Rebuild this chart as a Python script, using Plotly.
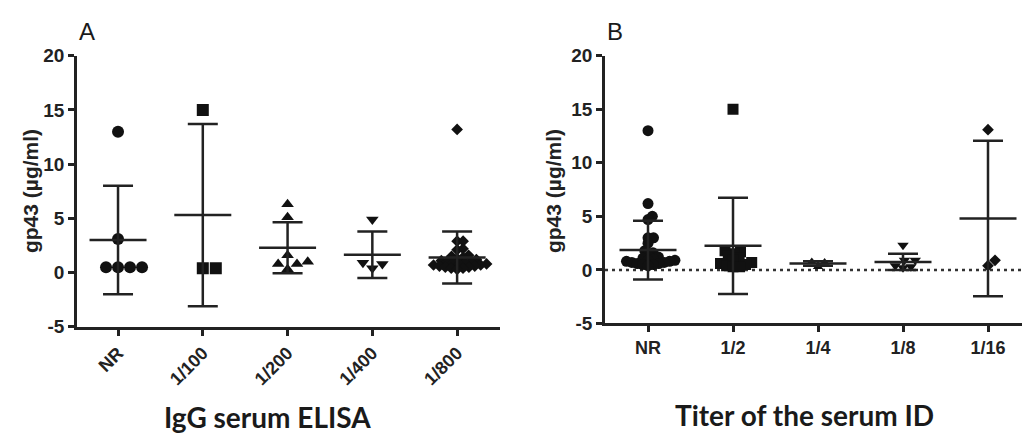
import math
import plotly.graph_objects as go

# ---------------- data ----------------
cats_a = ["NR", "1/100", "1/200", "1/400", "1/800"]
nr_a = [13.0, 3.1, 0.5, 0.5, 0.5, 0.5]
t100_a = [15.0, 0.4, 0.4]
t200_a = [6.3, 5.1, 1.6, 1.0, 0.8, 0.8, 0.3]
t400_a = [4.9, 0.9, 0.8, 0.4]
t800_a = [13.2, 2.9, 2.9, 2.2, 2.1, 1.6, 1.5, 1.4, 1.3, 1.2, 1.1, 1.0, 1.0,
          0.9, 0.9, 0.8, 0.8, 0.7, 0.7, 0.6, 0.6, 0.5, 0.5, 0.4, 0.4, 0.3]
mean_a = [3.0, 5.3, 2.3, 1.65, 1.4]
sd_a = [5.0, 8.4, 2.35, 2.15, 2.4]

cats_b = ["NR", "1/2", "1/4", "1/8", "1/16"]
nr_b = [13.0, 6.2, 5.0, 4.7, 3.0, 3.0, 2.5, 1.8, 1.6, 1.4, 1.2, 1.1, 1.0, 0.9,
        0.9, 0.8, 0.8, 0.7, 0.7, 0.6, 0.6, 0.5, 0.5, 0.4]
t2_b = [15.0, 1.8, 1.7, 1.5, 1.3, 1.1, 0.9, 0.7, 0.6, 0.5, 0.4, 0.3, 0.3]
t4_b = [0.75, 0.7, 0.3]
t8_b = [2.3, 0.9, 0.9, 0.4, 0.3, 0.2]
t16_b = [13.1, 0.9, 0.4]
mean_b = [1.85, 2.25, 0.6, 0.75, 4.8]
sd_b = [2.75, 4.5, 0.2, 0.75, 7.25]

y_ticks = [-5, 0, 5, 10, 15, 20]
y_ticktext = ["-5", "0", "5", "10", "15", "20"]

symbols = ["circle", "square", "triangle-up", "triangle-down", "diamond"]
sizes_a = [12, 12, 11, 11, 9]
sizes_b = [11, 11, 9, 10, 9]

W, H = 1022, 445
DARK = "#222222"
TICKFONT = dict(family="Liberation Sans, Arial", size=18, color=DARK, weight="bold")
YTICKFONT = dict(family="Liberation Sans, Arial", size=19, color=DARK, weight="bold")

# panel geometry (pixels)
ya_top, ya_bot = 48, 332.5
yb_top, yb_bot = 48, 329
xa_left, xa_right = 77, 499.5
xb_left, xb_right = 605, 1022
xa_range = [-0.484, 4.5]
xb_range = [-0.506, 4.4]
y_range = [-5, 20]


def swarm(values, d, ppu_x, ppu_y):
    n = len(values)
    order = sorted(range(n), key=lambda i: values[i])
    placed = []
    offs = [0.0] * n
    for i in order:
        y = values[i] * ppu_y
        cands = [0.0]
        for px, py in placed:
            dy = abs(py - y)
            if dy < d:
                dx = math.sqrt(d * d - dy * dy)
                cands += [px + dx, px - dx]
        cands.sort(key=lambda c: (round(abs(c), 3), -c))
        chosen = 0.0
        for c in cands:
            if all((c - px) ** 2 + (y - py) ** 2 >= d * d - 1e-6 for px, py in placed):
                chosen = c
                break
        placed.append((chosen, y))
        offs[i] = chosen / ppu_x
    return offs


fig = go.Figure()


def add_panel(groups, means, sds, sizes, xa, ya, ppu_x, ppu_y, dens):
    for gi, vals in enumerate(groups):
        offs = swarm(vals, dens[gi], ppu_x, ppu_y)
        fig.add_trace(go.Scatter(
            x=[gi + o for o in offs], y=vals, mode="markers", xaxis=xa, yaxis=ya,
            marker=dict(symbol=symbols[gi], size=sizes[gi], color="#111111",
                        line=dict(width=0)),
            showlegend=False, hoverinfo="y"))
    for gi, (m, s) in enumerate(zip(means, sds)):
        hw_mean = 28.5 / ppu_x
        hw_cap = 15 / ppu_x
        xs = [gi - hw_mean, gi + hw_mean, None,
              gi, gi, None,
              gi - hw_cap, gi + hw_cap, None,
              gi - hw_cap, gi + hw_cap]
        ys = [m, m, None,
              m - s, m + s, None,
              m + s, m + s, None,
              m - s, m - s]
        fig.add_trace(go.Scatter(x=xs, y=ys, mode="lines", xaxis=xa, yaxis=ya,
                                 line=dict(color=DARK, width=2.5),
                                 showlegend=False, hoverinfo="skip"))


ppu_xa = (xa_right - xa_left) / (xa_range[1] - xa_range[0])
ppu_ya = (ya_bot - ya_top) / 25.0
ppu_xb = (xb_right - xb_left) / (xb_range[1] - xb_range[0])
ppu_yb = (yb_bot - yb_top) / 25.0

add_panel([nr_a, t100_a, t200_a, t400_a, t800_a], mean_a, sd_a, sizes_a,
          "x", "y", ppu_xa, ppu_ya, [12, 13, 11, 11, 6])
add_panel([nr_b, t2_b, t4_b, t8_b, t16_b], mean_b, sd_b, sizes_b,
          "x2", "y2", ppu_xb, ppu_yb, [5.5, 6.5, 8, 8, 9])

axis_common = dict(showline=True, linewidth=2.5, linecolor=DARK, ticks="outside",
                   ticklen=6, tickwidth=2.5, tickcolor=DARK, showgrid=False,
                   zeroline=False, fixedrange=True)

fig.update_layout(
    width=W, height=H, margin=dict(l=0, r=0, t=0, b=0),
    paper_bgcolor="white", plot_bgcolor="white",
    xaxis=dict(domain=[xa_left / W, xa_right / W], range=xa_range, anchor="y",
               tickmode="array", tickvals=list(range(5)), ticktext=cats_a,
               tickangle=-45, tickfont=TICKFONT, **axis_common),
    yaxis=dict(domain=[1 - ya_bot / H, 1 - ya_top / H], range=y_range, anchor="x",
               tickmode="array", tickvals=y_ticks, ticktext=y_ticktext,
               tickfont=YTICKFONT, **axis_common),
    xaxis2=dict(domain=[xb_left / W, xb_right / W], range=xb_range, anchor="y2",
                tickmode="array", tickvals=list(range(5)), ticktext=cats_b,
                tickangle=0, tickfont=TICKFONT, **axis_common),
    yaxis2=dict(domain=[1 - yb_bot / H, 1 - yb_top / H], range=y_range, anchor="x2",
                tickmode="array", tickvals=y_ticks, ticktext=y_ticktext,
                tickfont=YTICKFONT, **axis_common),
)

fig.add_shape(type="line", xref="x2 domain", yref="y2", x0=0, x1=1, y0=0, y1=0,
              line=dict(color="#333333", width=2.5, dash="3px,4px"), layer="below")

ann_font_title = dict(family="Lato, Open Sans, sans-serif", size=28, color="#1a1a1a", weight="bold")
ylab_font = dict(family="Liberation Sans, Arial", size=21, color=DARK, weight="bold")
letter_font = dict(family="Liberation Sans, Arial", size=24, color="#1a1a1a")
annotations = [
    dict(text="A", x=87 / W, y=1 - 23 / H, font=letter_font),
    dict(text="B", x=615 / W, y=1 - 23 / H, font=letter_font),
    dict(text="gp43 (µg/ml)", x=30 / W, y=1 - 190 / H, textangle=-90, font=ylab_font),
    dict(text="gp43 (µg/ml)", x=553 / W, y=1 - 190 / H, textangle=-90, font=ylab_font),
    dict(text="IgG serum ELISA", x=267 / W, y=1 - 427 / H, font=ann_font_title),
    dict(text="Titer of the serum ID", x=804 / W, y=1 - 425 / H, font=ann_font_title),
]
for a in annotations:
    a.update(xref="paper", yref="paper", showarrow=False, xanchor="center", yanchor="middle")
fig.update_layout(annotations=annotations)

fig.write_html("out.html")
